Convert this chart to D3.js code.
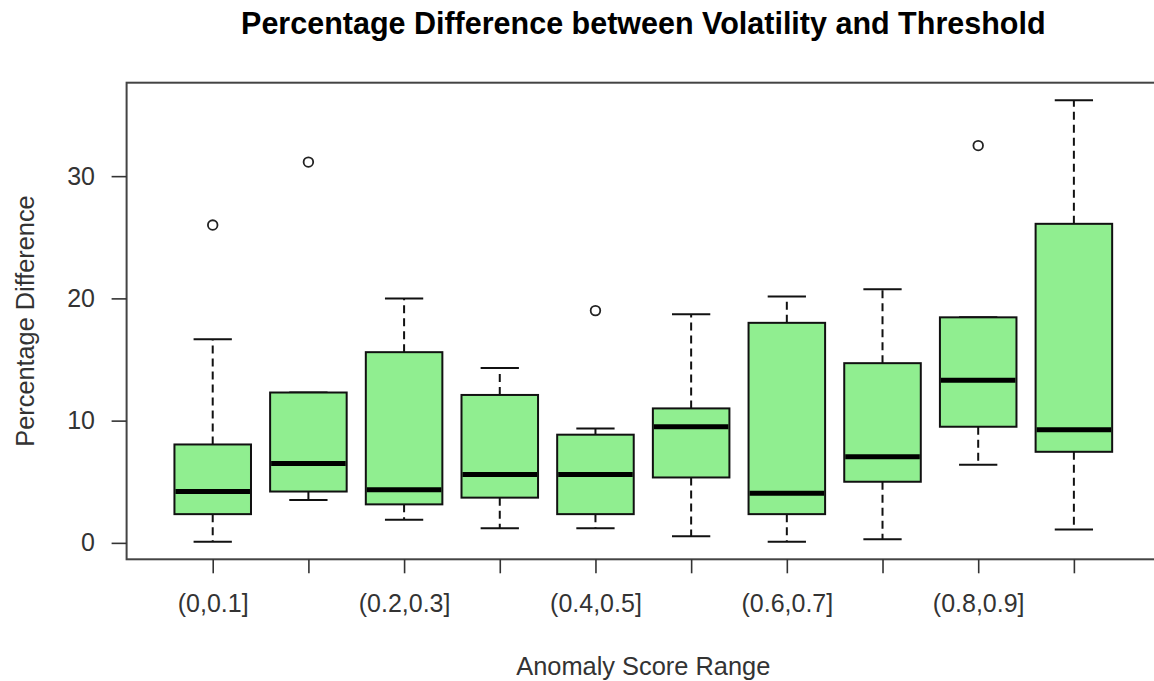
<!DOCTYPE html>
<html>
<head>
<meta charset="utf-8">
<script src="https://cdn.jsdelivr.net/npm/d3@7/dist/d3.min.js"></script>
<style>
  html, body { margin: 0; padding: 0; background: #ffffff; }
  svg { display: block; }
  text { font-family: "Liberation Sans", Arial, sans-serif; }
</style>
</head>
<body>
<svg id="chart" width="1154" height="681"></svg>
<script>
// Anomaly score bins (R shows every other label; the rest collide and are dropped)
const categories = ["(0,0.1]", "(0.1,0.2]", "(0.2,0.3]", "(0.3,0.4]", "(0.4,0.5]",
                    "(0.5,0.6]", "(0.6,0.7]", "(0.7,0.8]", "(0.8,0.9]", "(0.9,1]"];

// Five-number summaries per bin (percentage difference)
const lowerWhisker = [0.1, 3.5, 1.9, 1.2, 1.2, 0.55, 0.1, 0.3, 6.4, 1.1];
const q1           = [2.35, 4.2, 3.15, 3.7, 2.35, 5.35, 2.35, 5.0, 9.5, 7.45];
const median       = [4.2, 6.5, 4.35, 5.6, 5.6, 9.5, 4.05, 7.05, 13.3, 9.25];
const q3           = [8.05, 12.3, 15.6, 12.1, 8.85, 11.0, 18.0, 14.7, 18.45, 26.1];
const upperWhisker = [16.65, 12.3, 20.0, 14.3, 9.35, 18.7, 20.15, 20.75, 18.45, 36.2];

// Outlying points: bin index and value
const outlierBin   = [0, 1, 4, 8];
const outlierValue = [26.0, 31.15, 19.0, 32.5];

const yTicks = [0, 10, 20, 30];

const titleText = "Percentage Difference between Volatility and Threshold";
const xTitle = "Anomaly Score Range";
const yTitle = "Percentage Difference";

const svg = d3.select("#chart");
const W = 1154, H = 681;
svg.append("rect").attr("width", W).attr("height", H).attr("fill", "#ffffff");

// Plot region (R-style: 4% padding on each axis)
const plot = { left: 126.6, right: 1160, top: 82.7, bottom: 559.3 };

const n = categories.length;
const x = d3.scaleLinear()
  .domain([0.5 - 0.04 * n, n + 0.5 + 0.04 * n])
  .range([plot.left, plot.right]);

const allVals = lowerWhisker.concat(upperWhisker, outlierValue);
const yMin = d3.min(allVals), yMax = d3.max(allVals);
const pad = 0.04 * (yMax - yMin);
const y = d3.scaleLinear()
  .domain([yMin - pad, yMax + pad])
  .range([plot.bottom, plot.top]);

const boxHalf = 0.4;    // box width 0.8 of the spacing
const capHalf = 0.2;    // whisker staple half the box width

const boxes = categories.map((c, i) => ({
  pos: i + 1,
  lo: lowerWhisker[i], q1: q1[i], med: median[i], q3: q3[i], hi: upperWhisker[i]
}));

const g = svg.append("g");

// Whiskers (dashed) and staples
boxes.forEach(b => {
  const cx = x(b.pos);
  if (b.hi > b.q3) {
    g.append("line").attr("x1", cx).attr("x2", cx).attr("y1", y(b.q3)).attr("y2", y(b.hi))
      .attr("stroke", "#111").attr("stroke-width", 2).attr("stroke-dasharray", "8,5");
  }
  if (b.lo < b.q1) {
    g.append("line").attr("x1", cx).attr("x2", cx).attr("y1", y(b.q1)).attr("y2", y(b.lo))
      .attr("stroke", "#111").attr("stroke-width", 2).attr("stroke-dasharray", "8,5");
  }
  [b.lo, b.hi].forEach(v => {
    g.append("line")
      .attr("x1", x(b.pos - capHalf)).attr("x2", x(b.pos + capHalf))
      .attr("y1", y(v)).attr("y2", y(v))
      .attr("stroke", "#111").attr("stroke-width", 2);
  });
});

// Boxes
g.selectAll("rect.box").data(boxes).join("rect")
  .attr("class", "box")
  .attr("x", d => x(d.pos - boxHalf))
  .attr("width", d => x(d.pos + boxHalf) - x(d.pos - boxHalf))
  .attr("y", d => y(d.q3))
  .attr("height", d => y(d.q1) - y(d.q3))
  .attr("fill", "#90ee90")
  .attr("stroke", "#111")
  .attr("stroke-width", 2);

// Medians
g.selectAll("line.median").data(boxes).join("line")
  .attr("class", "median")
  .attr("x1", d => x(d.pos - boxHalf) + 1)
  .attr("x2", d => x(d.pos + boxHalf) - 1)
  .attr("y1", d => y(d.med)).attr("y2", d => y(d.med))
  .attr("stroke", "#000").attr("stroke-width", 5);

// Outliers
g.selectAll("circle.out").data(outlierValue.map((v, i) => ({ pos: outlierBin[i] + 1, v })))
  .join("circle")
  .attr("class", "out")
  .attr("cx", d => x(d.pos)).attr("cy", d => y(d.v))
  .attr("r", 4.8)
  .attr("fill", "none").attr("stroke", "#222").attr("stroke-width", 1.8);

// Frame
svg.append("rect")
  .attr("x", plot.left).attr("y", plot.top)
  .attr("width", plot.right - plot.left).attr("height", plot.bottom - plot.top)
  .attr("fill", "none").attr("stroke", "#444").attr("stroke-width", 2);

// Y axis
const yAxis = svg.append("g")
  .attr("transform", `translate(${plot.left},0)`)
  .call(d3.axisLeft(y).tickValues(yTicks).tickSize(15).tickPadding(16.6).tickSizeOuter(0));
yAxis.select(".domain").remove();
yAxis.selectAll(".tick line").attr("stroke", "#333").attr("stroke-width", 1.6);
yAxis.selectAll(".tick text")
  .attr("font-family", "Liberation Sans, Arial, sans-serif")
  .attr("font-size", 25).attr("fill", "#333");

// X axis
const xAxis = svg.append("g")
  .attr("transform", `translate(0,${plot.bottom})`)
  .call(d3.axisBottom(x)
    .tickValues(d3.range(1, n + 1))
    .tickFormat(d => (d - 1) % 2 === 0 ? categories[d - 1] : "")
    .tickSize(14).tickPadding(21).tickSizeOuter(0));
xAxis.select(".domain").remove();
xAxis.selectAll(".tick line").attr("stroke", "#333").attr("stroke-width", 1.6);
xAxis.selectAll(".tick text")
  .attr("font-family", "Liberation Sans, Arial, sans-serif")
  .attr("font-size", 25).attr("fill", "#333");

// Titles
const cxPlot = (plot.left + plot.right) / 2;
svg.append("text")
  .attr("x", cxPlot).attr("y", 34)
  .attr("text-anchor", "middle")
  .attr("font-size", 30.5).attr("font-weight", "bold").attr("fill", "#000")
  .text(titleText);

svg.append("text")
  .attr("x", cxPlot).attr("y", 675)
  .attr("text-anchor", "middle")
  .attr("font-size", 25.4).attr("fill", "#333")
  .text(xTitle);

svg.append("text")
  .attr("transform", `translate(34,${(plot.top + plot.bottom) / 2}) rotate(-90)`)
  .attr("text-anchor", "middle")
  .attr("font-size", 25.3).attr("fill", "#333")
  .text(yTitle);
</script>
</body>
</html>
